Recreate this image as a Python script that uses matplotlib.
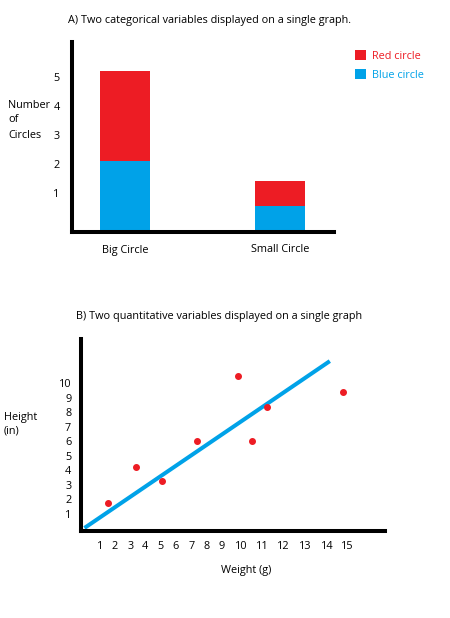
import numpy as np
import matplotlib
matplotlib.use('Agg')
import matplotlib.pyplot as plt
from matplotlib.scale import FuncScale

# ---- data ----
categories = ['Big Circle', 'Small Circle']
blue_counts = [2.1, 0.55]
red_counts = [3.1, 0.85]
bar_ticks = [1, 2, 3, 4, 5]

weight = [1.55, 3.4, 5.1, 7.35, 9.85, 10.5, 11.2, 14.8]
height = [1.75, 4.2, 3.25, 6.0, 10.5, 6.0, 8.35, 9.4]
fit_x = [0, 14.15]
fit_y = [0, 11.55]
x_ticks = list(range(1, 16))
y_ticks = list(range(1, 11))

RED = '#ed1c24'
BLUE = '#00a2e8'

plt.rcParams['font.family'] = ['Open Sans', 'DejaVu Sans']
plt.rcParams['font.size'] = 7.8

W, H = 450, 618
fig = plt.figure(figsize=(4.5, 6.18), dpi=100)


def box(l, t, r, b):
    return [l / W, (H - b) / H, (r - l) / W, (b - t) / H]


def style(ax):
    for s in ['top', 'right']:
        ax.spines[s].set_visible(False)
    for s in ['left', 'bottom']:
        ax.spines[s].set_linewidth(2.9)
        ax.spines[s].set_capstyle('projecting')
    ax.tick_params(length=0)


# ---- A) stacked bars ----
ax1 = fig.add_axes(box(72, 42, 334, 232))
style(ax1)
ax1.set_xlim(-0.342, 1.348)
ax1.set_ylim(-0.345, 6.21)
base = ax1.get_ylim()[0]
xpos = np.arange(len(categories))
blue_b = ax1.bar(xpos, np.array(blue_counts) - base, 0.32, bottom=base, color=BLUE, label='Blue circle')
red_b = ax1.bar(xpos, red_counts, 0.32, bottom=blue_counts, color=RED, label='Red circle')
ax1.set_xticks(xpos, categories)
ax1.set_yticks(bar_ticks)
ax1.tick_params(axis='x', pad=9)
ax1.tick_params(axis='y', pad=9)
ax1.legend(handles=[red_b, blue_b], loc='upper left', bbox_to_anchor=(355 / W, (H - 50) / H),
           bbox_transform=fig.transFigure, frameon=False, labelcolor='linecolor',
           handlelength=1.0, handleheight=1.0, handletextpad=0.6, labelspacing=0.7,
           borderpad=0, borderaxespad=0)
fig.text(209 / W, 1 - 20 / H, 'A) Two categorical variables displayed on a single graph.',
         ha='center', va='center')
fig.text(8 / W, 1 - 120 / H, 'Number\nof\nCircles', ha='left', va='center', linespacing=1.5)

# ---- B) scatter with line ----
# the hand-drawn axis is not evenly spaced: map label values to pixel columns
knot_v = [-1, 0, 1, 2, 3, 4, 5, 6, 7, 8, 9, 10, 11, 12, 13, 14, 15, 17]
knot_p = [69.3, 84.5, 99.7, 115, 130.3, 145.3, 160.3, 175.7, 191.3, 206.3, 221.7,
          240.7, 262.3, 283.7, 304.7, 326.7, 346.7, 389.1]


def fwd(v):
    return np.interp(v, knot_v, knot_p)


def inv(p):
    return np.interp(p, knot_p, knot_v)


ax2 = fig.add_axes(box(81, 339, 385, 531))
style(ax2)
ax2.set_xscale(FuncScale(ax2, (fwd, inv)))
ax2.set_xlim(-0.23, 16.8)
ax2.set_ylim(-0.21, 13.08)
ax2.plot(fit_x, fit_y, color=BLUE, lw=2.9, solid_capstyle='butt', zorder=2)
ax2.plot(weight, height, 'o', color=RED, ms=4, zorder=3)
ax2.set_xticks(x_ticks, [str(t) for t in x_ticks])
ax2.set_xticks([], minor=True)
ax2.set_yticks(y_ticks)
ax2.tick_params(axis='x', pad=7)
ax2.tick_params(axis='y', pad=7)
fig.text(219 / W, 1 - 317 / H, 'B) Two quantitative variables displayed on a single graph',
         ha='center', va='center')
fig.text(4 / W, 1 - 424 / H, 'Height\n(in)', ha='left', va='center', linespacing=1.3)
fig.text(246 / W, 1 - 571 / H, 'Weight (g)', ha='center', va='center')

fig.savefig('out.png', dpi=100)
